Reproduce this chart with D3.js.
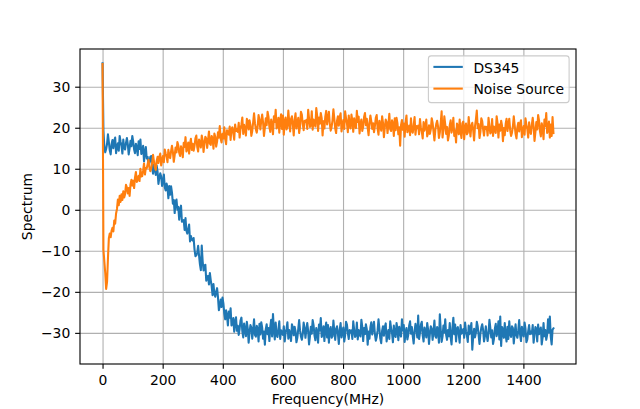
<!DOCTYPE html>
<html><head><meta charset="utf-8">
<script src="https://cdn.jsdelivr.net/npm/d3@7"></script>
<style>
body{margin:0;background:#fff}
svg{display:block}
text{font-family:"DejaVu Sans",sans-serif}
</style>
</head><body><svg id="chart" width="640" height="409"></svg>
<script>
// ---- data ----
const freqStartMHz = 0;
const freqStepMHz = 3;
const ds345 = [
35.7,19.2,15.4,14.0,14.8,16.1,18.4,16.5,14.5,13.5,16.0,17.0,15.0,16.8,17.6,13.8,15.2,16.2,14.4,18.0,16.6,15.6,13.7,17.1,15.1,
14.7,16.3,17.5,16.0,13.5,15.0,16.8,15.5,18.0,16.6,14.7,13.8,16.1,15.2,13.3,16.7,14.8,17.1,13.6,14.1,15.6,11.8,14.1,15.3,12.5,
12.9,10.9,11.6,12.9,13.1,10.2,8.8,11.0,9.9,8.5,10.8,9.3,6.3,7.9,8.9,8.1,5.8,7.0,8.6,5.5,4.7,6.4,5.5,2.8,5.8,
3.7,5.7,4.2,1.5,2.4,-0.8,2.0,2.5,0.0,0.7,-2.4,0.1,1.0,-2.9,-2.7,-2.5,-4.9,-2.0,-5.1,-5.8,-4.8,-3.6,-7.7,-6.4,-7.3,
-7.5,-6.9,-9.7,-11.3,-11.1,-10.4,-8.8,-11.1,-13.3,-14.7,-8.7,-12.5,-14.8,-13.6,-13.4,-17.3,-16.5,-16.1,-18.2,-15.4,-17.2,-18.6,-20.8,-18.1,-20.4,
-21.2,-20.0,-19.1,-21.3,-24.5,-23.4,-21.9,-23.7,-21.4,-22.8,-25.3,-26.7,-24.5,-25.8,-28.2,-24.8,-26.3,-24.0,-28.2,-27.8,-26.4,-29.7,-27.3,-26.2,-29.5,
-28.3,-30.5,-29.0,-27.0,-26.3,-29.6,-31.1,-27.7,-29.4,-30.8,-27.3,-28.9,-32.4,-29.9,-28.1,-28.7,-31.4,-29.3,-26.7,-30.5,-30.9,-28.3,-29.1,-32.1,-27.8,
-30.4,-27.4,-28.7,-31.4,-29.7,-32.9,-29.1,-27.9,-30.3,-28.8,-32.0,-28.5,-26.8,-30.9,-25.4,-29.3,-31.6,-27.5,-30.6,-31.0,-29.2,-27.2,-31.5,-29.4,-29.9,
-30.5,-28.4,-32.1,-30.0,-29.0,-27.4,-31.4,-29.3,-30.4,-32.0,-27.9,-28.7,-30.6,-28.5,-29.6,-32.3,-31.2,-29.1,-26.9,-29.4,-30.9,-31.7,-30.3,-27.5,-28.8,
-31.2,-29.2,-27.6,-29.5,-32.8,-30.8,-28.5,-30.2,-26.9,-28.1,-30.6,-31.8,-28.8,-29.9,-32.4,-28.0,-29.4,-26.4,-31.0,-30.3,-28.4,-32.0,-29.0,-27.5,-31.1,
-28.1,-32.4,-29.4,-28.6,-31.2,-30.8,-27.0,-29.6,-31.7,-29.0,-28.4,-30.2,-32.7,-29.2,-27.6,-31.1,-29.7,-28.7,-32.1,-30.6,-27.3,-28.0,-30.0,-31.5,-29.3,
-29.9,-29.4,-31.5,-27.2,-29.2,-31.0,-30.6,-27.5,-31.6,-29.3,-30.0,-30.9,-26.8,-28.5,-32.0,-28.8,-30.3,-27.9,-29.1,-32.9,-29.7,-31.4,-28.7,-27.4,-30.4,
-28.8,-27.3,-30.3,-31.9,-31.0,-29.4,-26.7,-29.0,-31.4,-32.5,-29.5,-28.4,-30.7,-28.6,-27.7,-32.1,-30.5,-29.3,-31.5,-27.2,-28.9,-30.1,-32.3,-28.2,-30.6,
-31.0,-27.6,-29.1,-31.8,-28.5,-30.3,-30.9,-26.7,-29.4,-28.1,-32.2,-29.9,-28.8,-31.6,-30.5,-28.2,-27.2,-30.2,-28.6,-30.8,-32.6,-29.6,-27.8,-29.2,-31.1,
-25.8,-31.5,-30.0,-28.0,-27.3,-30.6,-32.1,-28.7,-29.7,-31.1,-27.6,-29.2,-32.7,-30.2,-28.4,-29.0,-31.7,-29.6,-27.0,-30.8,-31.2,-28.6,-29.4,-32.4,-25.5,
-29.2,-32.2,-30.9,-28.2,-29.9,-26.7,-30.5,-31.7,-29.3,-30.8,-27.6,-31.1,-32.8,-28.7,-26.3,-30.3,-28.0,-32.1,-29.0,-28.6,-30.4,-32.4,-28.1,-30.2,-29.7,
-29.1,-31.2,-27.5,-29.6,-30.6,-32.2,-28.2,-30.3,-29.2,-27.6,-34.1,-30.9,-29.0,-31.1,-30.0,-27.3,-28.4,-30.5,-32.7,-30.2,-28.7,-27.9,-29.3,-32.1,-30.8,
-28.4,-30.5,-32.0,-30.1,-26.8,-28.8,-31.1,-29.4,-32.7,-31.5,-29.0,-27.8,-30.8,-29.7,-27.2,-31.6,-26.0,-33.2,-28.6,-29.3,-31.2,-27.6,-30.6,-32.1,-28.5,
-31.5,-27.2,-30.2,-31.0,-28.4,-28.8,-32.6,-30.0,-27.9,-30.6,-31.2,-29.4,-26.9,-30.4,-32.0,-28.5,-29.9,-30.9,-27.5,-29.0,-32.3,-31.6,-29.6,-28.1,-30.3,
-29.7,-30.2,-28.1,-32.4,-30.4,-28.6,-29.0,-32.1,-28.0,-30.3,-29.6,-28.7,-32.8,-31.1,-27.6,-30.8,-29.3,-31.7,-30.5,-26.7,-29.9,-26.0,-30.9,-32.8,-29.2,
-28.9
];
const noiseSource = [
35.5,-9.8,-12.6,-15.4,-19.3,-17.6,-11.8,-6.9,-5.8,-6.7,-5.1,-4.4,-5.3,-2.6,-3.4,-0.9,0.2,2.5,1.1,3.4,1.9,3.8,2.4,4.5,3.0,
3.8,6.1,5.4,4.0,5.3,3.4,6.2,7.3,5.9,7.1,5.3,7.9,9.2,6.8,7.5,8.3,7.0,10.0,8.1,8.2,9.6,11.3,8.6,10.2,10.1,
11.1,12.2,10.3,9.4,10.1,11.4,13.4,11.8,10.4,9.7,11.9,12.9,11.4,12.9,13.7,10.8,12.0,13.1,11.6,14.7,13.7,13.0,11.6,14.6,13.1,
12.6,14.3,15.6,14.1,11.7,13.3,15.2,14.0,16.5,15.7,13.9,13.1,15.5,14.6,12.8,16.3,15.3,17.7,14.2,14.8,16.4,13.7,16.1,17.3,14.6,
16.1,14.4,15.6,17.4,18.1,15.3,14.2,17.1,16.3,15.2,18.1,16.9,14.1,16.2,17.8,17.4,15.1,17.0,19.1,16.1,15.8,18.0,17.4,14.9,18.6,
17.8,15.4,16.6,18.9,17.6,20.4,17.3,16.4,18.5,17.4,20.1,17.3,16.0,19.4,18.8,18.3,20.3,17.0,19.7,20.1,18.7,17.1,20.8,19.2,19.7,
19.0,21.2,17.6,19.7,20.8,22.5,18.5,20.7,19.6,18.1,22.2,21.5,19.6,21.8,20.7,18.0,19.2,21.3,23.5,21.1,19.6,18.8,20.3,23.1,21.8,
19.6,21.7,23.2,21.3,18.0,20.0,22.3,20.6,23.9,22.7,20.2,19.0,22.0,20.9,18.4,22.8,21.4,24.4,19.8,20.5,22.4,18.8,21.8,23.3,19.7,
23.0,18.3,21.6,22.5,19.6,20.2,24.2,21.5,19.1,22.1,22.8,20.8,18.1,21.9,23.5,19.8,21.3,22.4,18.7,20.3,23.9,23.2,20.9,19.4,21.7,
21.4,21.9,19.7,24.4,22.2,20.2,20.6,24.0,19.5,22.0,21.2,20.3,24.8,22.9,19.2,22.5,21.0,23.6,22.3,18.1,21.6,19.8,22.7,24.1,20.8,
22.4,23.9,20.9,19.3,20.2,21.8,24.5,22.2,19.8,18.7,21.7,22.8,20.5,22.6,23.5,19.1,20.7,21.9,19.7,24.0,22.3,21.1,18.9,23.0,20.6,
19.8,23.2,21.7,19.0,22.3,20.5,19.9,24.1,21.4,22.7,18.6,20.9,22.0,19.2,20.3,22.6,23.6,20.6,22.2,20.0,18.2,21.2,23.0,21.6,19.7,
21.1,18.9,20.4,22.4,23.1,19.8,18.3,21.7,20.7,19.3,22.8,21.2,17.7,20.2,22.0,21.4,18.7,20.8,23.4,19.6,19.2,21.8,21.0,18.0,22.3,
19.4,22.4,21.1,18.4,20.1,15.6,20.7,21.9,19.5,21.0,17.8,21.3,23.0,18.9,19.8,20.5,18.2,22.3,19.2,18.8,20.6,22.6,18.3,20.4,19.9,
20.5,18.4,22.1,20.0,19.0,17.4,21.4,19.3,20.4,22.0,17.9,18.7,20.6,18.5,19.6,22.3,21.2,19.1,16.9,19.4,20.9,21.7,20.3,17.5,18.8,
21.2,24.0,17.6,19.5,22.8,20.8,18.5,20.2,16.9,18.1,20.6,21.8,18.8,19.9,22.4,18.0,19.4,16.4,21.0,20.3,18.4,22.0,19.0,17.5,21.1,
21.5,17.2,20.2,21.0,18.4,18.8,22.6,20.0,17.9,20.6,21.2,19.4,16.9,20.4,22.0,24.2,19.9,20.9,17.5,19.0,22.3,21.6,19.6,18.1,20.3,
19.7,20.2,18.1,22.4,20.4,18.6,19.0,22.1,18.0,20.3,19.6,18.7,22.8,21.1,17.6,20.8,19.3,21.7,20.5,16.7,19.9,18.2,20.9,22.2,19.2,
20.9,22.2,19.4,18.0,18.8,20.3,22.8,20.6,18.5,17.4,20.1,21.2,19.1,21.0,21.8,17.7,19.3,20.4,18.3,22.3,20.7,19.7,17.6,21.3,19.2,
18.5,20.7,22.4,20.3,16.8,18.9,21.4,19.6,23.1,21.8,19.2,17.9,21.1,19.9,17.2,22.0,20.4,23.6,18.7,19.4,21.5,17.6,20.8,18.0,22.6,
18.7
];
const seriesNames = ["DS345", "Noise Source"];
const seriesColors = ["#1f77b4", "#ff7f0e"];
const xTicks = [0, 200, 400, 600, 800, 1000, 1200, 1400];
const yTicks = [-30, -20, -10, 0, 10, 20, 30];
const xLabel = "Frequency(MHz)";
const yLabel = "Spectrum";

// ---- layout ----
const W = 640, H = 409;
const box = {left: 80, right: 576, top: 49, bottom: 364};
const fs = 13.9;          // 10pt
const tickLen = 4.86, tickPad = 4.86, lw = 1.11;

const series = [ds345, noiseSource].map((vals, k) => ({
  name: seriesNames[k], color: seriesColors[k],
  points: vals.map((v, i) => ({f: freqStartMHz + i * freqStepMHz, v}))
}));
const allPts = series.flatMap(s => s.points);
const [fMin, fMax] = d3.extent(allPts, p => p.f);
const [vMin, vMax] = d3.extent(allPts, p => p.v);
const fPad = (fMax - fMin) * 0.05, vPad = (vMax - vMin) * 0.05;

const x = d3.scaleLinear().domain([fMin - fPad, fMax + fPad]).range([box.left, box.right]);
const y = d3.scaleLinear().domain([vMin - vPad, vMax + vPad]).range([box.bottom, box.top]);
const fmt = d => d < 0 ? "\u2212" + Math.abs(d) : String(d);

const svg = d3.select("#chart");
svg.append("rect").attr("width", W).attr("height", H).attr("fill", "#fff");

// grid
const gx = svg.append("g").attr("transform", `translate(0,${box.bottom})`)
  .call(d3.axisBottom(x).tickValues(xTicks).tickSize(-(box.bottom - box.top)).tickFormat(""));
const gy = svg.append("g").attr("transform", `translate(${box.left},0)`)
  .call(d3.axisLeft(y).tickValues(yTicks).tickSize(-(box.right - box.left)).tickFormat(""));
[gx, gy].forEach(g => {
  g.select(".domain").remove();
  g.selectAll("line").attr("stroke", "#b0b0b0").attr("stroke-width", lw);
});

// lines
svg.append("clipPath").attr("id", "clip").append("rect")
  .attr("x", box.left).attr("y", box.top)
  .attr("width", box.right - box.left).attr("height", box.bottom - box.top);
const line = d3.line().x(p => x(p.f)).y(p => y(p.v));
svg.append("g").attr("clip-path", "url(#clip)")
  .selectAll("path").data(series).join("path")
  .attr("d", s => line(s.points))
  .attr("fill", "none").attr("stroke", s => s.color)
  .attr("stroke-width", 2.08).attr("stroke-linejoin", "round").attr("stroke-linecap", "square");

// spines
svg.append("rect").attr("x", box.left).attr("y", box.top)
  .attr("width", box.right - box.left).attr("height", box.bottom - box.top)
  .attr("fill", "none").attr("stroke", "#000").attr("stroke-width", lw);

// axes
const ax = svg.append("g").attr("transform", `translate(0,${box.bottom})`)
  .call(d3.axisBottom(x).tickValues(xTicks).tickSize(tickLen).tickSizeOuter(0).tickPadding(tickPad).tickFormat(fmt));
const ay = svg.append("g").attr("transform", `translate(${box.left},0)`)
  .call(d3.axisLeft(y).tickValues(yTicks).tickSize(tickLen).tickSizeOuter(0).tickPadding(tickPad).tickFormat(fmt));
[ax, ay].forEach(g => {
  g.select(".domain").remove();
  g.selectAll("line").attr("stroke", "#000").attr("stroke-width", lw);
  g.selectAll("text").attr("fill", "#000").style("font-size", fs + "px").style("font-family", "DejaVu Sans");
});
ax.selectAll("text").attr("dy", "0.81em");
ay.selectAll("text").attr("dy", "0.36em");

// axis labels
svg.append("text").attr("x", (box.left + box.right) / 2).attr("y", 404)
  .attr("text-anchor", "middle").style("font-size", fs + "px").text(xLabel);
svg.append("text").attr("transform", `translate(32,${(box.top + box.bottom) / 2}) rotate(-90)`)
  .attr("text-anchor", "middle").style("font-size", fs + "px").text(yLabel);

// legend
const lg = {right: box.right - 6.9, top: box.top + 6.9, w: 140.7, h: 46.7};
const legend = svg.append("g");
legend.append("rect").attr("x", lg.right - lg.w).attr("y", lg.top)
  .attr("width", lg.w).attr("height", lg.h).attr("rx", 2.8)
  .attr("fill", "#fff").attr("fill-opacity", 0.8)
  .attr("stroke", "#cccccc").attr("stroke-width", lw);
const items = legend.selectAll("g.item").data(series).join("g")
  .attr("transform", (s, i) => `translate(${lg.right - lg.w + 5},${lg.top + 11 + i * 21.7})`);
items.append("line").attr("x1", 0).attr("x2", 29.4).attr("y1", 0).attr("y2", 0)
  .attr("stroke", s => s.color).attr("stroke-width", 2.08);
items.append("text").attr("x", 40).attr("y", 0).attr("dy", "0.42em")
  .style("font-size", fs + "px").attr("fill", "#000").text(s => s.name);
</script>
</body></html>
